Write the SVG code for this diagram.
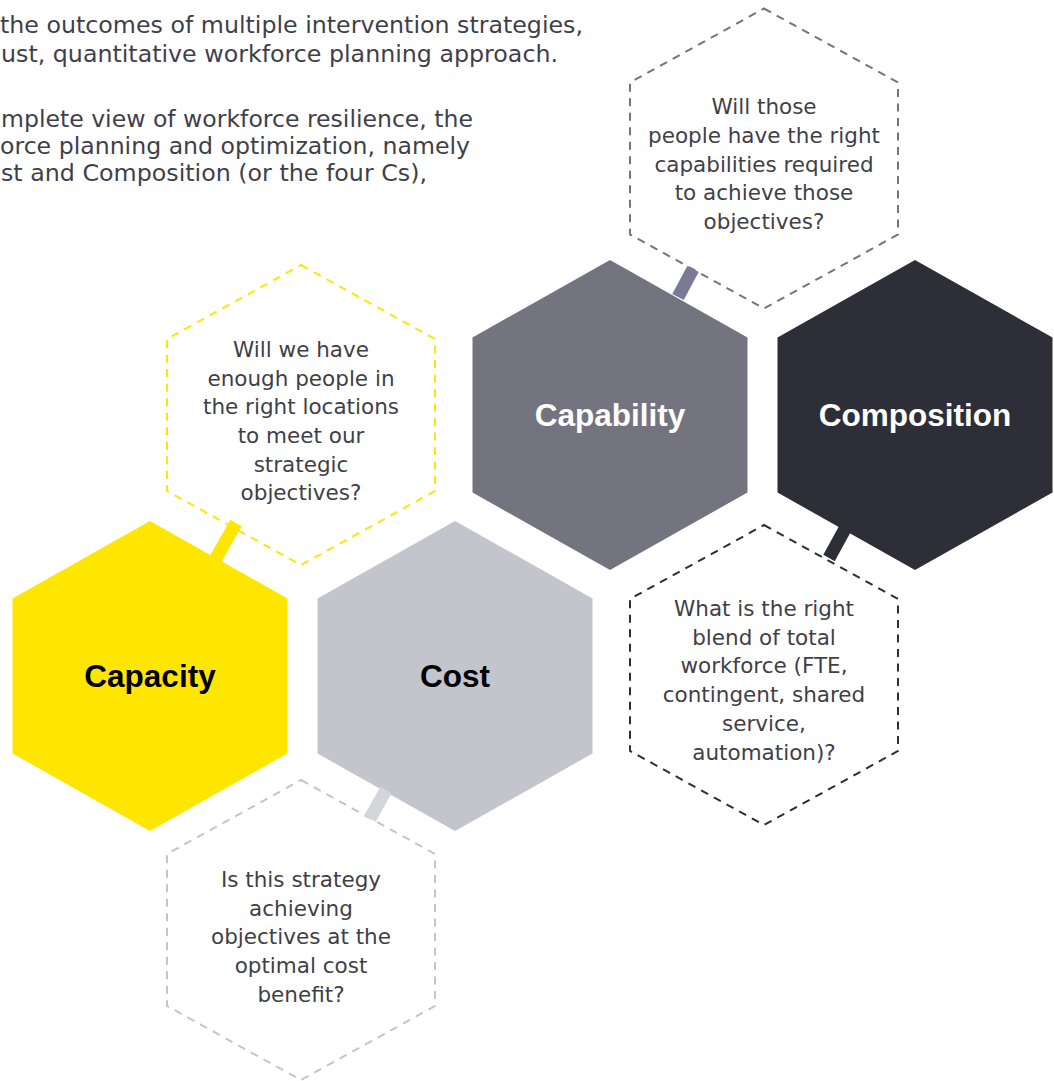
<svg xmlns="http://www.w3.org/2000/svg" width="1054" height="1081" viewBox="0 0 1054 1081">
<style>
.body{font-family:"DejaVu Sans","Liberation Sans",sans-serif;font-size:23.5px;fill:#3f3f4a}
.q{font-family:"DejaVu Sans","Liberation Sans",sans-serif;font-size:21.5px;fill:#3f3f48;text-anchor:middle}
.lbl{font-family:"Liberation Sans",Arial,sans-serif;font-size:31.5px;font-weight:bold;text-anchor:middle}
.dash{fill:none;stroke-width:2;stroke-dasharray:8 6.5}
.conn{stroke-width:13;stroke-linecap:butt}
</style>
<rect width="1054" height="1081" fill="#ffffff"/>
<g id="intro">
<text class="body" x="0" y="33" textLength="583" lengthAdjust="spacingAndGlyphs">the outcomes of multiple intervention strategies,</text>
<text class="body" x="1" y="62" textLength="557" lengthAdjust="spacingAndGlyphs">ust, quantitative workforce planning approach.</text>
<text class="body" x="1" y="127" textLength="472" lengthAdjust="spacingAndGlyphs">mplete view of workforce resilience, the</text>
<text class="body" x="0" y="154" textLength="470" lengthAdjust="spacingAndGlyphs">orce planning and optimization, namely</text>
<text class="body" x="1" y="181" textLength="426" lengthAdjust="spacingAndGlyphs">st and Composition (or the four Cs),</text>
</g>
<g id="capacity-question">
<polygon class="dash" stroke="#ffe600" points="301,265 435,339 435,491 301,565 167,491 167,339"/>
<text class="q" x="301" y="357">Will we have</text>
<text class="q" x="301" y="385.7">enough people in</text>
<text class="q" x="301" y="414.4">the right locations</text>
<text class="q" x="301" y="443">to meet our</text>
<text class="q" x="301" y="471.7">strategic</text>
<text class="q" x="301" y="500.4">objectives?</text>
</g>
<g id="capability-question">
<polygon class="dash" stroke="#747480" points="764,8.5 898,82.5 898,234.5 764,308.5 630,234.5 630,82.5"/>
<text class="q" x="764" y="114.3">Will those</text>
<text class="q" x="764" y="143">people have the right</text>
<text class="q" x="764" y="171.7">capabilities required</text>
<text class="q" x="764" y="200.4">to achieve those</text>
<text class="q" x="764" y="229">objectives?</text>
</g>
<g id="composition-question">
<polygon class="dash" stroke="#2e2e38" points="764,525 898,599 898,751 764,825 630,751 630,599"/>
<text class="q" x="764" y="616">What is the right</text>
<text class="q" x="764" y="644.7">blend of total</text>
<text class="q" x="764" y="673.4">workforce (FTE,</text>
<text class="q" x="764" y="702">contingent, shared</text>
<text class="q" x="764" y="730.8">service,</text>
<text class="q" x="764" y="759.5">automation)?</text>
</g>
<g id="cost-question">
<polygon class="dash" stroke="#c4c4cd" points="301,780 435,854 435,1006 301,1080 167,1006 167,854"/>
<text class="q" x="301" y="887">Is this strategy</text>
<text class="q" x="301" y="915.7">achieving</text>
<text class="q" x="301" y="944.4">objectives at the</text>
<text class="q" x="301" y="973">optimal cost</text>
<text class="q" x="301" y="1001.8">benefit?</text>
</g>
<g id="capacity">
<polygon fill="#ffe600" points="150,521 287.5,598.5 287.5,753.5 150,831 12.5,753.5 12.5,598.5"/>
<text class="lbl" x="150" y="687" fill="#000000">Capacity</text>
</g>
<g id="cost">
<polygon fill="#c4c4cd" points="455,521 592.5,598.5 592.5,753.5 455,831 317.5,753.5 317.5,598.5"/>
<text class="lbl" x="455" y="687" fill="#000000">Cost</text>
</g>
<g id="capability">
<polygon fill="#747480" points="610,260 747.5,337.5 747.5,492.5 610,570 472.5,492.5 472.5,337.5"/>
<text class="lbl" x="610" y="426" fill="#ffffff">Capability</text>
</g>
<g id="composition">
<polygon fill="#2e2e38" points="915,260 1052.5,337.5 1052.5,492.5 915,570 777.5,492.5 777.5,337.5"/>
<text class="lbl" x="915" y="426" fill="#ffffff">Composition</text>
</g>
<g id="connectors">
<line class="conn" stroke="#ffe600" x1="236" y1="523" x2="214" y2="562"/>
<line class="conn" stroke="#7b7a96" x1="693" y1="269" x2="678" y2="297"/>
<line class="conn" stroke="#2e2e38" x1="846" y1="527" x2="829" y2="558"/>
<line class="conn" stroke="#d5d5dc" x1="386" y1="790" x2="370" y2="818.5"/>
</g>
</svg>
